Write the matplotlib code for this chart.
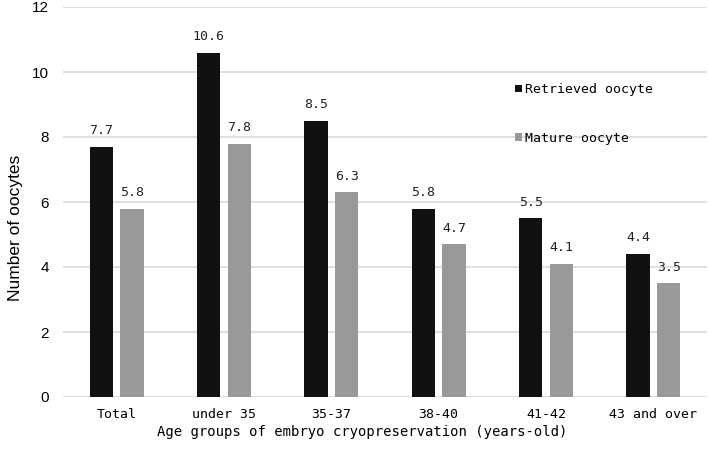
import numpy as np
import matplotlib.pyplot as plt

# age groups and mean oocyte counts
groups = ['Total', 'under 35', '35-37', '38-40', '41-42', '43 and over']
retrieved = [7.7, 10.6, 8.5, 5.8, 5.5, 4.4]
mature = [5.8, 7.8, 6.3, 4.7, 4.1, 3.5]

mono = 'DejaVu Sans Mono'
sans = 'Liberation Sans'

fig = plt.figure(figsize=(7.09, 4.5), dpi=100)
ax = fig.add_axes([63 / 709, 53 / 450, 644 / 709, 390 / 450])

x = np.arange(len(groups))
w = 0.22
b1 = ax.bar(x - 0.143, retrieved, w, color='#111111', label='Retrieved oocyte', zorder=3)
b2 = ax.bar(x + 0.143, mature, w, color='#999999', label='Mature oocyte', zorder=3)

for bars, vals in [(b1, retrieved), (b2, mature)]:
    for r, v in zip(bars, vals):
        ax.annotate(f'{v:.1f}', (r.get_x() + r.get_width() / 2, v),
                    xytext=(0, 7), textcoords='offset points',
                    ha='center', va='bottom', fontsize=9.5, family=mono, color='#222222')

ax.set_ylim(0, 12)
ax.set_xlim(-0.5, 5.5)
ax.set_yticks(range(0, 13, 2))
ax.set_xticks(x)
ax.set_xticklabels(groups, family=mono, fontsize=9.5)
for t in ax.get_yticklabels():
    t.set_family(sans)
    t.set_fontsize(11)
ax.tick_params(axis='y', length=0, pad=10)
ax.tick_params(axis='x', length=0, pad=8)
ax.yaxis.grid(True, color='#d9d9d9', linewidth=1.2, zorder=0)
for s in ax.spines.values():
    s.set_visible(False)

ax.set_xlabel('Age groups of embryo cryopreservation (years-old)', family=mono, fontsize=10)
ax.xaxis.set_label_coords(0.464, -0.073)
ax.set_ylabel('Number of oocytes', family=sans, fontsize=12.5)
ax.yaxis.set_label_coords(-0.062, 0.433)

ax.legend(loc='upper left', bbox_to_anchor=(0.684, 0.835), frameon=False,
          prop={'family': mono, 'size': 9.5}, handlelength=0.5, handleheight=0.5,
          handletextpad=0.2, labelspacing=2.7)

fig.savefig('out.png', dpi=100)
